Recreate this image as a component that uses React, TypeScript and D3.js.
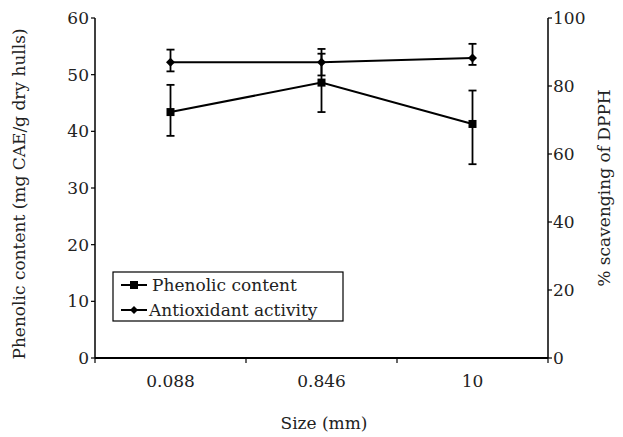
import React from 'react';
import * as d3 from 'd3';

// sizes (mm) on the x axis
const sizes = ['0.088', '0.846', '10'];
// phenolic content, mg CAE/g dry hulls (left axis)
const phenolic = [43.4, 48.6, 41.3];
const phenolicErr = [[39.2, 48.2], [43.4, 53.7], [34.2, 47.2]];
// % scavenging of DPPH (right axis)
const antioxidant = [87.0, 87.0, 88.2];
const antioxidantErr = [[84.3, 90.7], [83.1, 90.9], [86.2, 92.4]];
const leftTicks = [0, 10, 20, 30, 40, 50, 60];
const rightTicks = [0, 20, 40, 60, 80, 100];

const W = 623;
const H = 437;
const margin = { top: 18, right: 75, bottom: 79, left: 95 };
const font = "'DejaVu Serif', serif";

const App = () => {
    const x0 = margin.left;
    const x1 = W - margin.right;
    const y0 = H - margin.bottom;
    const y1 = margin.top;

    const xScale = d3.scaleBand<string>().domain(sizes).range([x0, x1]).padding(0);
    const yLeft = d3.scaleLinear().domain([0, 60]).range([y0, y1]);
    const yRight = d3.scaleLinear().domain([0, 100]).range([y0, y1]);
    const cx = (s: string) => (xScale(s) as number) + xScale.bandwidth() / 2;

    const line = (vals: number[], y: d3.ScaleLinear<number, number>) =>
        d3.line<number>()
            .x((_, i) => cx(sizes[i]))
            .y(d => y(d))(vals) as string;

    const boundaries = [...sizes.map(s => xScale(s) as number), x1];

    const errBar = (s: string, lo: number, hi: number, y: d3.ScaleLinear<number, number>, key: string) => (
        <g key={key} stroke="#000" strokeWidth={1.8}>
            <line x1={cx(s)} x2={cx(s)} y1={y(lo)} y2={y(hi)} />
            <line x1={cx(s) - 4} x2={cx(s) + 4} y1={y(lo)} y2={y(lo)} />
            <line x1={cx(s) - 4} x2={cx(s) + 4} y1={y(hi)} y2={y(hi)} />
        </g>
    );

    const diamond = (x: number, y: number, r: number) =>
        `M${x},${y - r}L${x + r},${y}L${x},${y + r}L${x - r},${y}Z`;

    const legX = 113;
    const legY = 272;

    return (
        <svg width={W} height={H} style={{ position: 'absolute', left: 0, top: 0, background: '#fff', fontFamily: font }}>
            {/* left axis */}
            <line x1={x0} x2={x0} y1={y1} y2={y0} stroke="#000" strokeWidth={1.5} />
            {leftTicks.map(t => (
                <g key={'l' + t}>
                    <line x1={x0 - 4} x2={x0} y1={yLeft(t)} y2={yLeft(t)} stroke="#000" strokeWidth={1.2} />
                    <text x={x0 - 6} y={yLeft(t)} dy="0.35em" textAnchor="end" fontSize={17} fill="#222">{t}</text>
                </g>
            ))}
            {/* right axis */}
            <line x1={x1} x2={x1} y1={y1} y2={y0} stroke="#000" strokeWidth={1.5} />
            {rightTicks.map(t => (
                <g key={'r' + t}>
                    <line x1={x1} x2={x1 + 4} y1={yRight(t)} y2={yRight(t)} stroke="#000" strokeWidth={1.2} />
                    <text x={x1 + 5} y={yRight(t)} dy="0.35em" textAnchor="start" fontSize={17} fill="#222">{t}</text>
                </g>
            ))}
            {/* x axis */}
            <line x1={x0} x2={x1} y1={y0} y2={y0} stroke="#000" strokeWidth={2} />
            {boundaries.map((b, i) => (
                <line key={'b' + i} x1={b} x2={b} y1={y0} y2={y0 + 5} stroke="#000" strokeWidth={1.2} />
            ))}
            {sizes.map(s => (
                <text key={'x' + s} x={cx(s)} y={y0 + 29} textAnchor="middle" fontSize={17} fill="#222">{s}</text>
            ))}

            {/* axis titles */}
            <text x={324} y={429} textAnchor="middle" fontSize={17} fill="#222">Size (mm)</text>
            <text transform={`translate(25,${(y0 + y1) / 2 + 6}) rotate(-90)`} textAnchor="middle"
                fontSize={17} fill="#222">Phenolic content (mg CAE/g dry hulls)</text>
            <text transform={`translate(610,${(y0 + y1) / 2}) rotate(-90)`} textAnchor="middle"
                fontSize={17} fill="#222">% scavenging of DPPH</text>

            {/* series */}
            <path d={line(phenolic, yLeft)} fill="none" stroke="#000" strokeWidth={2} />
            <path d={line(antioxidant, yRight)} fill="none" stroke="#000" strokeWidth={2} />
            {sizes.map((s, i) => errBar(s, phenolicErr[i][0], phenolicErr[i][1], yLeft, 'pe' + i))}
            {sizes.map((s, i) => errBar(s, antioxidantErr[i][0], antioxidantErr[i][1], yRight, 'ae' + i))}
            {sizes.map((s, i) => (
                <rect key={'ps' + i} x={cx(s) - 4} y={yLeft(phenolic[i]) - 4} width={8} height={8} fill="#000" />
            ))}
            {sizes.map((s, i) => (
                <path key={'ad' + i} d={diamond(cx(s), yRight(antioxidant[i]), 4.5)} fill="#000" />
            ))}

            {/* legend */}
            <rect x={legX} y={legY} width={230} height={49} fill="#fff" stroke="#000" strokeWidth={1.2} />
            <line x1={legX + 8} x2={legX + 34} y1={legY + 13} y2={legY + 13} stroke="#000" strokeWidth={2} />
            <rect x={legX + 17} y={legY + 9} width={8} height={8} fill="#000" />
            <text x={legX + 39} y={legY + 13} dy="0.35em" fontSize={17} fill="#222">Phenolic content</text>
            <line x1={legX + 8} x2={legX + 34} y1={legY + 38} y2={legY + 38} stroke="#000" strokeWidth={2} />
            <path d={diamond(legX + 21, legY + 38, 4)} fill="#000" />
            <text x={legX + 36} y={legY + 38} dy="0.35em" fontSize={17} fill="#222">Antioxidant activity</text>
        </svg>
    );
};

export default App;
